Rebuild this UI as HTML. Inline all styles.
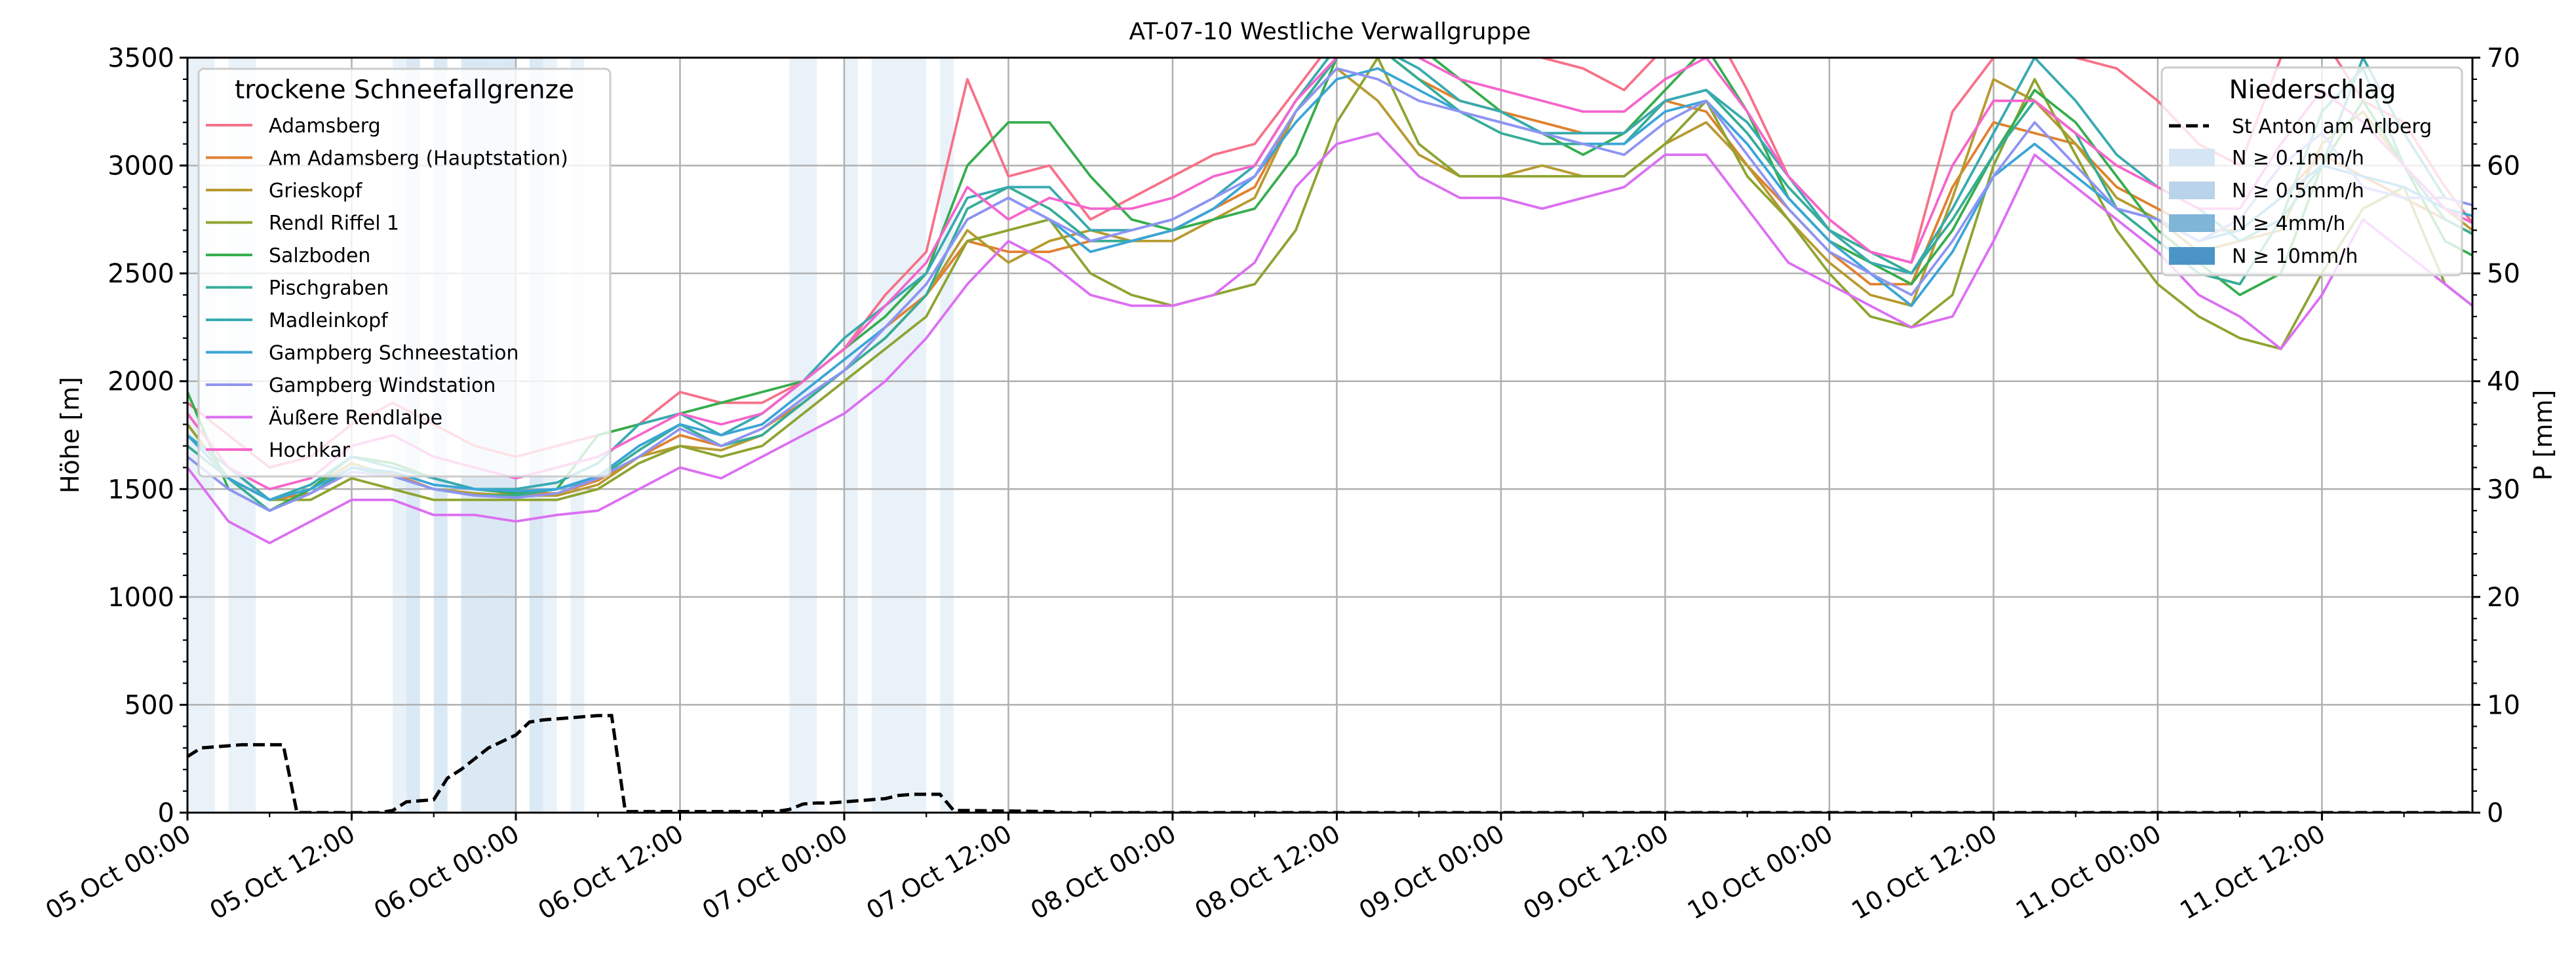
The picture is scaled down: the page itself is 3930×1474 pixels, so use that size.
<!DOCTYPE html>
<html><head><meta charset="utf-8"><style>
html,body{margin:0;padding:0;background:#fff}
svg{display:block;font-family:"DejaVu Sans","Liberation Sans",sans-serif}
</style></head><body>
<svg id="chart" width="3930" height="1474" viewBox="0 0 3930 1474" xmlns="http://www.w3.org/2000/svg">
<defs><clipPath id="plotclip"><rect x="286" y="88" width="3486" height="1152"/></clipPath></defs>
<rect x="0" y="0" width="3930" height="1474" fill="#fff"/>
<text x="2029" y="60" font-size="36" text-anchor="middle">AT-07-10 Westliche Verwallgruppe</text>
<g id="bands" clip-path="url(#plotclip)"></g>
<g id="grid"></g>
<g id="series" clip-path="url(#plotclip)"></g>
<g id="precip" clip-path="url(#plotclip)"></g>
<g id="axes"></g>
<g id="legends"></g>
<text x="0" y="0" font-size="38" text-anchor="middle" transform="translate(120,664) rotate(-90)">Höhe [m]</text>
<text x="0" y="0" font-size="38" text-anchor="middle" transform="translate(3893,664) rotate(-90)">P [mm]</text>
</svg>
<script>
const seriesNames = ["Adamsberg","Am Adamsberg (Hauptstation)","Grieskopf","Rendl Riffel 1","Salzboden","Pischgraben","Madleinkopf","Gampberg Schneestation","Gampberg Windstation","Äußere Rendlalpe","Hochkar"];
const seriesColors = ["#f77189","#e0812f","#b79a30","#8ea431","#36ad4d","#36ad96","#38aab0","#3aa5d6","#8f94f2","#dc6ff2","#f565cc"];
const hoursStep = 3;
const sAdamsberg = [1900,1750,1600,1650,1800,1900,1800,1700,1650,1700,1750,1800,1950,1900,1900,2000,2150,2400,2600,3400,2950,3000,2750,2850,2950,3050,3100,3350,3600,3700,3650,3600,3550,3500,3450,3350,3550,3700,3350,2950,2750,2600,2550,3250,3500,3600,3500,3450,3300,3100,3000,3500,3600,3300,3200,2900,2650];
const sAmAdamsberg = [1800,1550,1450,1480,1600,1570,1500,1470,1480,1480,1540,1650,1750,1700,1780,1900,2050,2250,2400,2650,2600,2600,2650,2650,2700,2800,2900,3250,3500,3550,3400,3300,3250,3200,3150,3150,3300,3250,3000,2800,2600,2450,2450,2900,3200,3150,3100,2900,2800,2700,2700,2850,3050,2950,2850,2750,2650];
const sGrieskopf = [1850,1600,1450,1500,1620,1560,1500,1480,1470,1470,1520,1650,1700,1680,1750,1900,2050,2200,2400,2700,2550,2650,2700,2650,2650,2750,2850,3250,3450,3300,3050,2950,2950,3000,2950,2950,3100,3200,3000,2750,2550,2400,2350,2850,3400,3300,3100,2850,2750,2600,2650,2700,3100,3250,3000,2800,2650];
const sRendl = [1800,1550,1450,1450,1550,1500,1450,1450,1450,1450,1500,1620,1700,1650,1700,1850,2000,2150,2300,2650,2700,2750,2500,2400,2350,2400,2450,2700,3200,3500,3100,2950,2950,2950,2950,2950,3100,3300,2950,2750,2500,2300,2250,2400,3000,3400,3050,2700,2450,2300,2200,2150,2500,2800,2900,2450,2300];
const sSalzboden = [1950,1500,1400,1500,1650,1620,1550,1500,1480,1500,1750,1800,1850,1900,1950,2000,2150,2300,2500,3000,3200,3200,2950,2750,2700,2750,2800,3050,3500,3600,3550,3400,3250,3150,3050,3150,3350,3550,3250,2850,2650,2550,2450,2700,3050,3350,3200,2950,2700,2550,2400,2500,3000,3300,3000,2650,2550];
const sPischgraben = [1700,1550,1400,1480,1600,1560,1500,1470,1470,1500,1550,1680,1800,1700,1750,1900,2050,2200,2400,2800,2900,2800,2650,2650,2700,2800,2950,3250,3500,3550,3400,3250,3150,3100,3100,3100,3300,3350,3150,2900,2700,2600,2500,2750,3050,3300,3150,2800,2650,2500,2450,2750,3250,3450,3000,2750,2650];
const sMadleinkopf = [1750,1600,1450,1520,1650,1600,1550,1500,1500,1530,1620,1800,1850,1750,1850,2000,2200,2350,2500,2850,2900,2900,2700,2700,2750,2850,3000,3300,3550,3550,3450,3300,3250,3150,3150,3150,3300,3350,3200,2950,2700,2550,2500,2800,3150,3500,3300,3050,2900,2800,2650,2750,3000,3500,3150,2850,2800];
const sGampSchnee = [1750,1550,1450,1500,1600,1580,1520,1500,1490,1500,1560,1700,1800,1750,1800,1950,2100,2250,2450,2750,2850,2750,2600,2650,2700,2800,2950,3200,3400,3450,3350,3250,3200,3150,3100,3100,3250,3300,3100,2850,2650,2500,2350,2600,2950,3100,2950,2800,2750,2650,2700,2850,3000,2950,2900,2800,2750];
const sGampWind = [1650,1500,1400,1480,1580,1560,1500,1470,1460,1480,1550,1650,1780,1700,1780,1920,2050,2250,2450,2750,2850,2750,2650,2700,2750,2850,2950,3250,3450,3400,3300,3250,3200,3150,3100,3050,3200,3300,3050,2800,2600,2500,2400,2650,2950,3200,3000,2800,2750,2650,2750,3000,3150,2900,2850,2850,2800];
const sRendlalpe = [1600,1350,1250,1350,1450,1450,1380,1380,1350,1380,1400,1500,1600,1550,1650,1750,1850,2000,2200,2450,2650,2550,2400,2350,2350,2400,2550,2900,3100,3150,2950,2850,2850,2800,2850,2900,3050,3050,2800,2550,2450,2350,2250,2300,2650,3050,2900,2750,2600,2400,2300,2150,2400,2750,2600,2450,2300];
const sHochkar = [1850,1600,1500,1550,1700,1750,1650,1600,1550,1600,1650,1750,1850,1800,1850,2000,2150,2350,2550,2900,2750,2850,2800,2800,2850,2950,3000,3300,3500,3600,3500,3400,3350,3300,3250,3250,3400,3500,3250,2950,2750,2600,2550,3000,3300,3300,3150,3000,2900,2800,2800,3100,3350,3200,3000,2800,2700];
const seriesValues = [sAdamsberg,sAmAdamsberg,sGrieskopf,sRendl,sSalzboden,sPischgraben,sMadleinkopf,sGampSchnee,sGampWind,sRendlalpe,sHochkar];
const precipHours = [0,1,2,3,4,5,6,7,8,14,15,16,17,18,19,20,21,22,23,24,25,26,27,28,29,30,31,32,43,44,45,46,47,48,49,50,51,52,53,54,55,56,57,63,64,167];
const precipMm = [5.2,6.0,6.1,6.2,6.3,6.3,6.3,6.3,0,0,0.2,1.0,1.1,1.2,3.2,4.0,5.0,6.0,6.6,7.2,8.4,8.6,8.7,8.8,8.9,9.0,9.0,0.1,0.1,0.3,0.8,0.9,0.9,1.0,1.1,1.2,1.3,1.6,1.7,1.7,1.7,0.2,0.2,0.1,0,0];
const bandHours = [0,1,3,4,15,16,18,20,21,22,23,25,26,28,44,45,48,50,51,52,53,55];
const bandRates = [0.2,0.2,0.2,0.2,0.3,1.0,1.0,1.0,1.2,1.1,1.0,0.8,0.3,0.2,0.2,0.2,0.2,0.2,0.2,0.2,0.2,0.2];
const yTicks = [0,500,1000,1500,2000,2500,3000,3500];
const y2Ticks = [0,10,20,30,40,50,60,70];
const xTickLabels = ["05.Oct 00:00","05.Oct 12:00","06.Oct 00:00","06.Oct 12:00","07.Oct 00:00","07.Oct 12:00","08.Oct 00:00","08.Oct 12:00","09.Oct 00:00","09.Oct 12:00","10.Oct 00:00","10.Oct 12:00","11.Oct 00:00","11.Oct 12:00"];

const NS="http://www.w3.org/2000/svg";
const X0=286,X1=3772,Y0=1240,Y1=88,HMAX=167;
const xs=h=>X0+h*(X1-X0)/HMAX;
const ys=v=>Y0-v/3500*(Y0-Y1);
const yp=m=>Y0-m/70*(Y0-Y1);
function mk(tag,attrs,parent){const e=document.createElementNS(NS,tag);for(const k in attrs)e.setAttribute(k,attrs[k]);parent.appendChild(e);return e;}
const bandsG=document.getElementById('bands'),gridG=document.getElementById('grid'),serG=document.getElementById('series'),prG=document.getElementById('precip'),axG=document.getElementById('axes'),lgG=document.getElementById('legends');
const classColors=["#d6e5f3","#b8d3ea","#7fb5d7","#4a95c6"];
function cls(r){return r>=10?3:r>=4?2:r>=0.5?1:0;}
bandHours.forEach((h,i)=>{
  const r=mk('rect',{x:xs(h),y:Y1,width:xs(h+1)-xs(h),height:Y0-Y1,fill:classColors[cls(bandRates[i])],'fill-opacity':0.5},bandsG);
  
  
});
yTicks.forEach(v=>{const l=mk('line',{x1:X0,x2:X1,y1:ys(v),y2:ys(v),stroke:'#b0b0b0','stroke-width':2.5},gridG);
  
  });
xTickLabels.forEach((t,i)=>{const x=xs(i*12);const l=mk('line',{x1:x,x2:x,y1:Y1,y2:Y0,stroke:'#b0b0b0','stroke-width':2.5},gridG);
  
  });
seriesValues.forEach((arr,si)=>{
  const pts=arr.map((v,i)=>xs(i*hoursStep)+','+ys(v)).join(' ');
  const p=mk('polyline',{points:pts,fill:'none',stroke:seriesColors[si],'stroke-width':3.8,'stroke-linejoin':'round'},serG);
  
  
});
{const pts=precipHours.map((h,i)=>xs(h)+','+yp(precipMm[i])).join(' ');
 const p=mk('polyline',{points:pts,fill:'none',stroke:'#000','stroke-width':5,'stroke-dasharray':'18,8'},prG);
 
 }
mk('rect',{x:X0,y:Y1,width:X1-X0,height:Y0-Y1,fill:'none',stroke:'#000','stroke-width':3},axG);
for(let v=0;v<=3500;v+=100){const major=v%500===0;mk('line',{x1:X0,x2:X0-(major?12:7),y1:ys(v),y2:ys(v),stroke:'#000','stroke-width':major?3:2.2},axG);}
yTicks.forEach(v=>{const t=mk('text',{x:X0-20,y:ys(v)+14,'font-size':40,'text-anchor':'end'},axG);t.textContent=v;
  
  });
for(let m=0;m<=70;m+=2){const major=m%10===0;mk('line',{x1:X1,x2:X1+(major?12:7),y1:yp(m),y2:yp(m),stroke:'#000','stroke-width':major?3:2.2},axG);}
y2Ticks.forEach(m=>{const t=mk('text',{x:X1+22,y:yp(m)+14,'font-size':40},axG);t.textContent=m;
  
  });
for(let h=0;h<=HMAX;h+=6){const major=h%12===0;mk('line',{x1:xs(h),x2:xs(h),y1:Y0,y2:Y0+(major?12:7),stroke:'#000','stroke-width':major?3:2.2},axG);}
xTickLabels.forEach((s,i)=>{const x=xs(i*12);const t=mk('text',{x:0,y:0,'font-size':38,'text-anchor':'end',transform:`translate(${x+8},${Y0+40}) rotate(-30)`},axG);t.textContent=s;
  
  });
{const g=mk('g',{},lgG);
 
 
 mk('rect',{x:303,y:105,width:628,height:622,rx:8,fill:'#fff','fill-opacity':0.8,stroke:'#cccccc','stroke-width':3},g);
 const tt=mk('text',{x:617,y:150,'font-size':39,'text-anchor':'middle'},g);tt.textContent='trockene Schneefallgrenze';
 seriesNames.forEach((n,i)=>{const y=191+i*49.5;
   const e=mk('g',{},g);
   
   
   mk('line',{x1:314,x2:385,y1:y,y2:y,stroke:seriesColors[i],'stroke-width':4},e);
   const t=mk('text',{x:410,y:y+11,'font-size':30},e);t.textContent=n;});
}
{const g=mk('g',{},lgG);
 
 
 mk('rect',{x:3298,y:103,width:458,height:317,rx:8,fill:'#fff','fill-opacity':0.8,stroke:'#cccccc','stroke-width':3},g);
 const tt=mk('text',{x:3528,y:150,'font-size':39,'text-anchor':'middle'},g);tt.textContent='Niederschlag';
 const e0=mk('g',{},g);
 
 
 mk('line',{x1:3309,x2:3370,y1:192,y2:192,stroke:'#000','stroke-width':5,'stroke-dasharray':'18,8'},e0);
 const t0=mk('text',{x:3405,y:203,'font-size':30},e0);t0.textContent='St Anton am Arlberg';
 const labs=['N ≥ 0.1mm/h','N ≥ 0.5mm/h','N ≥ 4mm/h','N ≥ 10mm/h'];
 labs.forEach((l,i)=>{const y=240+i*50;
   const e=mk('g',{},g);
   
   
   mk('rect',{x:3309,y:y-13,width:70,height:27,fill:classColors[i]},e);
   const t=mk('text',{x:3405,y:y+11,'font-size':30},e);t.textContent=l;});
}
</script>
</body></html>
